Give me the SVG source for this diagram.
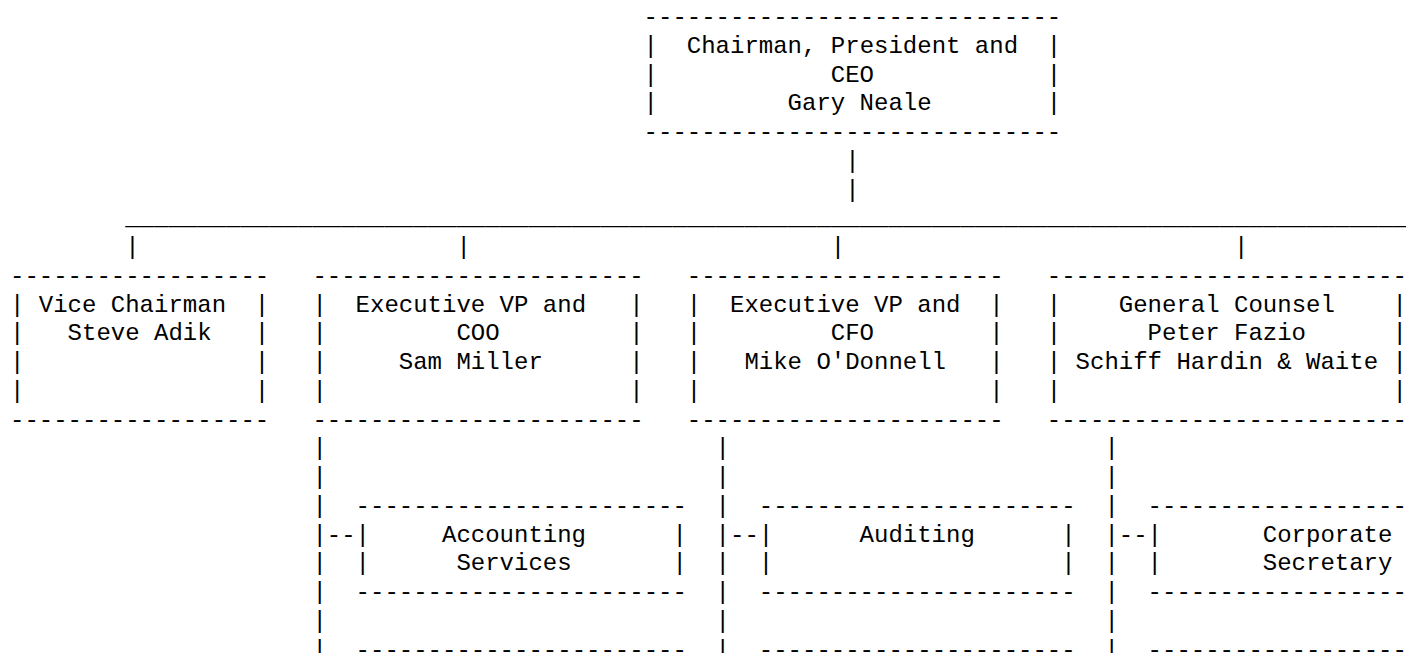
<svg xmlns="http://www.w3.org/2000/svg" width="1406" height="653" viewBox="0 0 1406 653">
<style>
text{font-family:"Liberation Mono","Courier New",monospace;font-size:24px;fill:#000;white-space:pre}
</style>
<rect width="1406" height="653" fill="#fff"/>
<g id="connectors">
<text x="845.2" y="167.75">|</text>
<text x="845.2" y="196.5">|</text>
<text x="125.2" y="225.25">__________________________________________________________________________________________</text>
<text x="125.2" y="254">|</text>
<text x="456.4" y="254">|</text>
<text x="830.8" y="254">|</text>
<text x="1234" y="254">|</text>
<text x="312.4"><tspan x="312.4" y="455.25">|</tspan><tspan x="312.4" y="484">|</tspan><tspan x="312.4" y="512.75">|</tspan><tspan x="312.4" y="541.5">|--</tspan><tspan x="312.4" y="570.25">|</tspan><tspan x="312.4" y="599">|</tspan><tspan x="312.4" y="627.75">|</tspan><tspan x="312.4" y="656.5">|</tspan></text>
<text x="715.6"><tspan x="715.6" y="455.25">|</tspan><tspan x="715.6" y="484">|</tspan><tspan x="715.6" y="512.75">|</tspan><tspan x="715.6" y="541.5">|--</tspan><tspan x="715.6" y="570.25">|</tspan><tspan x="715.6" y="599">|</tspan><tspan x="715.6" y="627.75">|</tspan><tspan x="715.6" y="656.5">|</tspan></text>
<text x="1104.4"><tspan x="1104.4" y="455.25">|</tspan><tspan x="1104.4" y="484">|</tspan><tspan x="1104.4" y="512.75">|</tspan><tspan x="1104.4" y="541.5">|--</tspan><tspan x="1104.4" y="570.25">|</tspan><tspan x="1104.4" y="599">|</tspan><tspan x="1104.4" y="627.75">|</tspan><tspan x="1104.4" y="656.5">|</tspan></text>
</g>
<g id="ceo">
<text x="643.6" y="24">-----------------------------</text>
<text x="643.6" y="139">-----------------------------</text>
<text><tspan x="643.6" y="52.75">|</tspan><tspan x="643.6" y="81.5">|</tspan><tspan x="643.6" y="110.25">|</tspan></text>
<text><tspan x="1046.8" y="52.75">|</tspan><tspan x="1046.8" y="81.5">|</tspan><tspan x="1046.8" y="110.25">|</tspan></text>
<text x="686.8" y="52.75">Chairman, President and</text>
<text x="830.8" y="81.5">CEO</text>
<text x="787.6" y="110.25">Gary Neale</text>
</g>
<g id="vice-chairman">
<text x="10" y="282.75">------------------</text>
<text x="10" y="426.5">------------------</text>
<text><tspan x="10" y="311.5">|</tspan><tspan x="10" y="340.25">|</tspan><tspan x="10" y="369">|</tspan><tspan x="10" y="397.75">|</tspan></text>
<text><tspan x="254.8" y="311.5">|</tspan><tspan x="254.8" y="340.25">|</tspan><tspan x="254.8" y="369">|</tspan><tspan x="254.8" y="397.75">|</tspan></text>
<text x="38.8" y="311.5">Vice Chairman</text>
<text x="67.6" y="340.25">Steve Adik</text>
</g>
<g id="coo">
<text x="312.4" y="282.75">-----------------------</text>
<text x="312.4" y="426.5">-----------------------</text>
<text><tspan x="312.4" y="311.5">|</tspan><tspan x="312.4" y="340.25">|</tspan><tspan x="312.4" y="369">|</tspan><tspan x="312.4" y="397.75">|</tspan></text>
<text><tspan x="629.2" y="311.5">|</tspan><tspan x="629.2" y="340.25">|</tspan><tspan x="629.2" y="369">|</tspan><tspan x="629.2" y="397.75">|</tspan></text>
<text x="355.6" y="311.5">Executive VP and</text>
<text x="456.4" y="340.25">COO</text>
<text x="398.8" y="369">Sam Miller</text>
</g>
<g id="cfo">
<text x="686.8" y="282.75">----------------------</text>
<text x="686.8" y="426.5">----------------------</text>
<text><tspan x="686.8" y="311.5">|</tspan><tspan x="686.8" y="340.25">|</tspan><tspan x="686.8" y="369">|</tspan><tspan x="686.8" y="397.75">|</tspan></text>
<text><tspan x="989.2" y="311.5">|</tspan><tspan x="989.2" y="340.25">|</tspan><tspan x="989.2" y="369">|</tspan><tspan x="989.2" y="397.75">|</tspan></text>
<text x="730" y="311.5">Executive VP and</text>
<text x="830.8" y="340.25">CFO</text>
<text x="744.4" y="369">Mike O'Donnell</text>
</g>
<g id="general-counsel">
<text x="1046.8" y="282.75">-------------------------</text>
<text x="1046.8" y="426.5">-------------------------</text>
<text><tspan x="1046.8" y="311.5">|</tspan><tspan x="1046.8" y="340.25">|</tspan><tspan x="1046.8" y="369">|</tspan><tspan x="1046.8" y="397.75">|</tspan></text>
<text><tspan x="1392.4" y="311.5">|</tspan><tspan x="1392.4" y="340.25">|</tspan><tspan x="1392.4" y="369">|</tspan><tspan x="1392.4" y="397.75">|</tspan></text>
<text x="1118.8" y="311.5">General Counsel</text>
<text x="1147.6" y="340.25">Peter Fazio</text>
<text x="1075.6" y="369">Schiff Hardin &amp; Waite</text>
</g>
<g id="accounting-services">
<text x="355.6" y="512.75">-----------------------</text>
<text x="355.6" y="599">-----------------------</text>
<text><tspan x="355.6" y="541.5">|</tspan><tspan x="355.6" y="570.25">|</tspan></text>
<text><tspan x="672.4" y="541.5">|</tspan><tspan x="672.4" y="570.25">|</tspan></text>
<text x="442" y="541.5">Accounting</text>
<text x="456.4" y="570.25">Services</text>
</g>
<g id="auditing">
<text x="758.8" y="512.75">----------------------</text>
<text x="758.8" y="599">----------------------</text>
<text><tspan x="758.8" y="541.5">|</tspan><tspan x="758.8" y="570.25">|</tspan></text>
<text><tspan x="1061.2" y="541.5">|</tspan><tspan x="1061.2" y="570.25">|</tspan></text>
<text x="859.6" y="541.5">Auditing</text>
</g>
<g id="corporate-secretary">
<text x="1147.6" y="512.75">------------------</text>
<text x="1147.6" y="599">------------------</text>
<text><tspan x="1147.6" y="541.5">|</tspan><tspan x="1147.6" y="570.25">|</tspan></text>
<text x="1262.8" y="541.5">Corporate</text>
<text x="1262.8" y="570.25">Secretary</text>
</g>
<g id="coo-next">
<text x="355.6" y="656.5">-----------------------</text>
</g>
<g id="cfo-next">
<text x="758.8" y="656.5">----------------------</text>
</g>
<g id="counsel-next">
<text x="1147.6" y="656.5">------------------</text>
</g>
</svg>
